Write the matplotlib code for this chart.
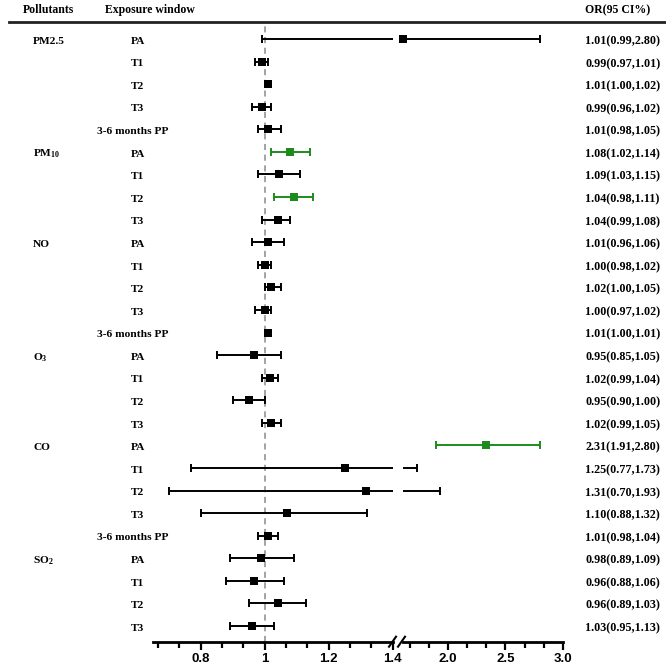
import numpy as np
import matplotlib
matplotlib.use("Agg")
import matplotlib.pyplot as plt
import matplotlib.transforms as mtransforms
from matplotlib.lines import Line2D
from matplotlib.ticker import MultipleLocator, FixedLocator

# ---------- data ----------
pollutants = ["PM2.5", "PM$_{10}$", "NO", "O$_3$", "CO", "SO$_2$"]
group_sizes = [5, 4, 5, 4, 5, 4]

windows = ["PA", "T1", "T2", "T3", "3-6 months PP",
           "PA", "T1", "T2", "T3",
           "PA", "T1", "T2", "T3", "3-6 months PP",
           "PA", "T1", "T2", "T3",
           "PA", "T1", "T2", "T3", "3-6 months PP",
           "PA", "T1", "T2", "T3"]

# point estimates and CI as drawn in the plot
est = [1.61, 0.99, 1.01, 0.99, 1.01,
       1.08, 1.045, 1.09, 1.04,
       1.01, 1.00, 1.02, 1.00, 1.01,
       0.965, 1.015, 0.95, 1.02,
       2.33, 1.25, 1.315, 1.07, 1.01,
       0.987, 0.965, 1.04, 0.96]
lo = [0.99, 0.97, 1.00, 0.96, 0.98,
      1.02, 0.98, 1.03, 0.99,
      0.96, 0.98, 1.00, 0.97, 1.00,
      0.85, 0.99, 0.90, 0.99,
      1.90, 0.77, 0.70, 0.80, 0.98,
      0.89, 0.88, 0.95, 0.89]
hi = [2.80, 1.01, 1.02, 1.02, 1.05,
      1.14, 1.11, 1.15, 1.08,
      1.06, 1.02, 1.05, 1.02, 1.01,
      1.05, 1.04, 1.00, 1.05,
      2.80, 1.73, 1.93, 1.32, 1.04,
      1.09, 1.06, 1.13, 1.03]
significant = [False, False, False, False, False,
               True, False, True, False,
               False, False, False, False, False,
               False, False, False, False,
               True, False, False, False, False,
               False, False, False, False]

or_labels = ["1.01(0.99,2.80)", "0.99(0.97,1.01)", "1.01(1.00,1.02)", "0.99(0.96,1.02)", "1.01(0.98,1.05)",
             "1.08(1.02,1.14)", "1.09(1.03,1.15)", "1.04(0.98,1.11)", "1.04(0.99,1.08)",
             "1.01(0.96,1.06)", "1.00(0.98,1.02)", "1.02(1.00,1.05)", "1.00(0.97,1.02)", "1.01(1.00,1.01)",
             "0.95(0.85,1.05)", "1.02(0.99,1.04)", "0.95(0.90,1.00)", "1.02(0.99,1.05)",
             "2.31(1.91,2.80)", "1.25(0.77,1.73)", "1.31(0.70,1.93)", "1.10(0.88,1.32)", "1.01(0.98,1.04)",
             "0.98(0.89,1.09)", "0.96(0.88,1.06)", "0.96(0.89,1.03)", "1.03(0.95,1.13)"]

left_ticks = [0.8, 1.0, 1.2, 1.4]
left_ticklabels = ["0.8", "1", "1.2", "1.4"]
right_ticks = [2.0, 2.5, 3.0]
right_ticklabels = ["2.0", "2.5", "3.0"]

# ---------- style ----------
plt.rcParams['font.family'] = ['Liberation Serif', 'DejaVu Serif']
plt.rcParams['font.weight'] = 'bold'
plt.rcParams['mathtext.fontset'] = 'custom'
plt.rcParams['mathtext.rm'] = 'Liberation Serif:bold'
plt.rcParams['mathtext.bf'] = 'Liberation Serif:bold'
plt.rcParams['mathtext.default'] = 'bf'

GREEN = "#1e8a1e"
W, H = 666, 664


def fx(px):
    return px / W


def fy(py):
    return 1 - py / H


fig = plt.figure(figsize=(W / 100, H / 100), dpi=100)

top, bottom = 21.7, 641.7
ax1 = fig.add_axes([fx(152.7), fy(bottom), fx(392.7) - fx(152.7), fy(top) - fy(bottom)])
ax2 = fig.add_axes([fx(403), fy(bottom), fx(563) - fx(403), fy(top) - fy(bottom)])
ax1.set_xlim(0.65, 1.4)
ax2.set_xlim(1.61, 3.0)

n = len(windows)
ypos = np.arange(n)
colors = [GREEN if s else "black" for s in significant]

for ax, (xmin, xmax) in ((ax1, (0.0, 1.4)), (ax2, (1.6, 9.0))):
    ax.set_ylim(26.695, -0.766)
    for i in range(n):
        ax.errorbar(est[i], ypos[i], xerr=[[est[i] - lo[i]], [hi[i] - est[i]]],
                    fmt='none', ecolor=colors[i], elinewidth=1.4, capsize=2.6, capthick=1.4)
        if xmin <= est[i] <= xmax:
            ax.plot(est[i], ypos[i], marker='s', ms=6.2, color=colors[i], mew=0,
                    linestyle='none', clip_on=False, zorder=4)
    for side in ('top', 'left', 'right'):
        ax.spines[side].set_visible(False)
    ax.spines['bottom'].set_linewidth(2)
    ax.set_yticks([])
    ax.tick_params(axis='x', which='major', length=6, width=1.6, direction='out', pad=2)
    ax.tick_params(axis='x', which='minor', length=4, width=1.6, direction='out')
    ax.patch.set_alpha(0)

ax1.axvline(1.0, color="#8a8a8a", lw=1.1, dashes=(4, 3), zorder=1)

ax1.xaxis.set_major_locator(FixedLocator(left_ticks))
ax1.set_xticklabels(left_ticklabels)
ax1.xaxis.set_minor_locator(MultipleLocator(1 / 15))
ax2.xaxis.set_major_locator(FixedLocator(right_ticks))
ax2.set_xticklabels(right_ticklabels)
ax2.xaxis.set_minor_locator(MultipleLocator(1 / 6))
for ax in (ax1, ax2):
    for lab in ax.get_xticklabels():
        lab.set_family(['Liberation Sans', 'DejaVu Sans'])
        lab.set_fontweight('bold')
        lab.set_fontsize(9.5)

# axis break marks
for cx in (392.5, 401.5):
    fig.add_artist(Line2D([fx(cx - 3.5), fx(cx + 3.5)], [fy(bottom + 5), fy(bottom - 5)],
                          color='black', lw=1.5))

# header
fig.add_artist(Line2D([fx(9), fx(666)], [fy(top), fy(top)], color='#222222', lw=2))
hy = fy(10)
fig.text(fx(23), hy, "Pollutants", fontsize=8.5, va='center', ha='left')
fig.text(fx(105), hy, "Exposure window", fontsize=8.5, va='center', ha='left')
fig.text(fx(585), hy, "OR(95 CI%)", fontsize=8.5, va='center', ha='left')

# text columns
trans = mtransforms.blended_transform_factory(fig.transFigure, ax1.transData)
start = 0
for name, size in zip(pollutants, group_sizes):
    ax1.text(fx(33), ypos[start] + 0.1, name, transform=trans, fontsize=8.2,
             va='center', ha='left', clip_on=False)
    start += size

for i in range(n):
    x = fx(97) if windows[i].startswith("3-6") else fx(131)
    ax1.text(x, ypos[i] + 0.1, windows[i], transform=trans, fontsize=8.2,
             va='center', ha='left', clip_on=False)
    ax1.text(fx(585), ypos[i] + 0.1, or_labels[i], transform=trans, fontsize=8.7,
             va='center', ha='left', clip_on=False)

fig.savefig("out.png", dpi=100)
